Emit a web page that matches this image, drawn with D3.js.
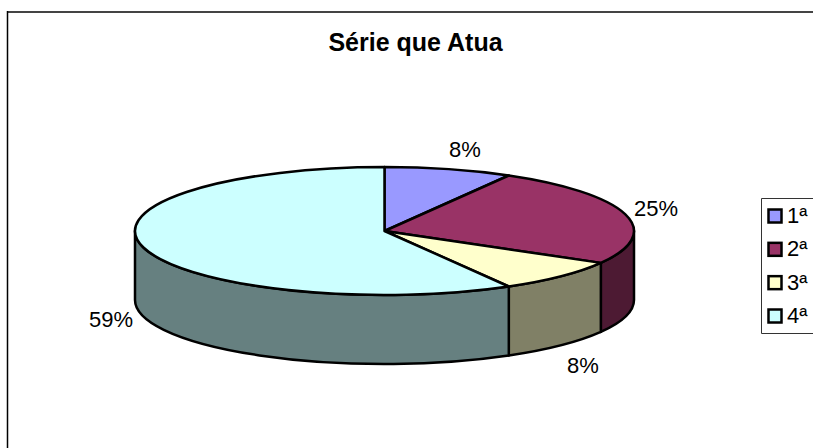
<!DOCTYPE html>
<html><head><meta charset="utf-8">
<script src="https://cdn.jsdelivr.net/npm/d3@7"></script>
<style>html,body{margin:0;padding:0;background:#fff}svg{display:block}text{font-family:"Liberation Sans",Arial,sans-serif;fill:#000}</style>
</head><body><div id="c"></div>
<script>
const categories = ["1ª","2ª","3ª","4ª"];
const values = [8.3,25,8.4,58.3];
const labels = ["8%","25%","8%","59%"];
const topColors = ["#9999FF","#993366","#FFFFCC","#CCFFFF"];
const sideColors = ["#4D4D80","#4D1A33","#808066","#668080"];
const title = "Série que Atua";

const W=813,H=448,cx=384.5,cy=231,rx=249.5,ry=64,depth=69;
const svg=d3.select("#c").append("svg").attr("width",W).attr("height",H);

svg.append("path").attr("d",`M${W},12H7`).attr("fill","none").attr("stroke","#444").attr("stroke-width",2);
svg.append("path").attr("d",`M7.5,11V${H}`).attr("fill","none").attr("stroke","#000").attr("stroke-width",1.5);
svg.append("text").attr("x",415.5).attr("y",51).attr("text-anchor","middle").attr("font-size",25).attr("font-weight","bold").text(title);

const pie=d3.pie().sort(null).value(d=>d)(values);
const px=a=>cx+rx*Math.sin(a), py=(a,o=0)=>cy-ry*Math.cos(a)+o;
const g=svg.append("g").attr("stroke","#000").attr("stroke-width",2.5).attr("stroke-linejoin","round");
const lo=Math.PI/2, hi=3*Math.PI/2;
pie.forEach((d,i)=>{
  const a=Math.max(d.startAngle,lo), b=Math.min(d.endAngle,hi);
  if(b<=a) return;
  g.append("path").attr("fill",sideColors[i]).attr("d",
    `M${px(a)},${py(a)}A${rx},${ry} 0 0 1 ${px(b)},${py(b)}L${px(b)},${py(b,depth)}A${rx},${ry} 0 0 0 ${px(a)},${py(a,depth)}Z`);
});
pie.forEach((d,i)=>{
  const large=d.endAngle-d.startAngle>Math.PI?1:0;
  g.append("path").attr("fill",topColors[i]).attr("d",
    `M${cx},${cy}L${px(d.startAngle)},${py(d.startAngle)}A${rx},${ry} 0 ${large} 1 ${px(d.endAngle)},${py(d.endAngle)}Z`);
});

const labelPos=[[465,157],[656,216],[583,373],[111,327]];
labels.forEach((t,i)=>svg.append("text").attr("x",labelPos[i][0]).attr("y",labelPos[i][1]).attr("text-anchor","middle").attr("font-size",22).text(t));

svg.append("path").attr("d",`M${W},198.5H761.5V333.5H${W}`).attr("fill","#fff").attr("stroke","#333").attr("stroke-width",1);
const ly=d3.scalePoint().domain(categories).range([216,316]);
categories.forEach((c,i)=>{
  svg.append("rect").attr("x",768.5).attr("y",ly(c)-6.5).attr("width",13).attr("height",13).attr("fill",topColors[i]).attr("stroke","#000").attr("stroke-width",2.5);
  svg.append("text").attr("x",787).attr("y",ly(c)+7).attr("font-size",22).text(c);
});
</script></body></html>
